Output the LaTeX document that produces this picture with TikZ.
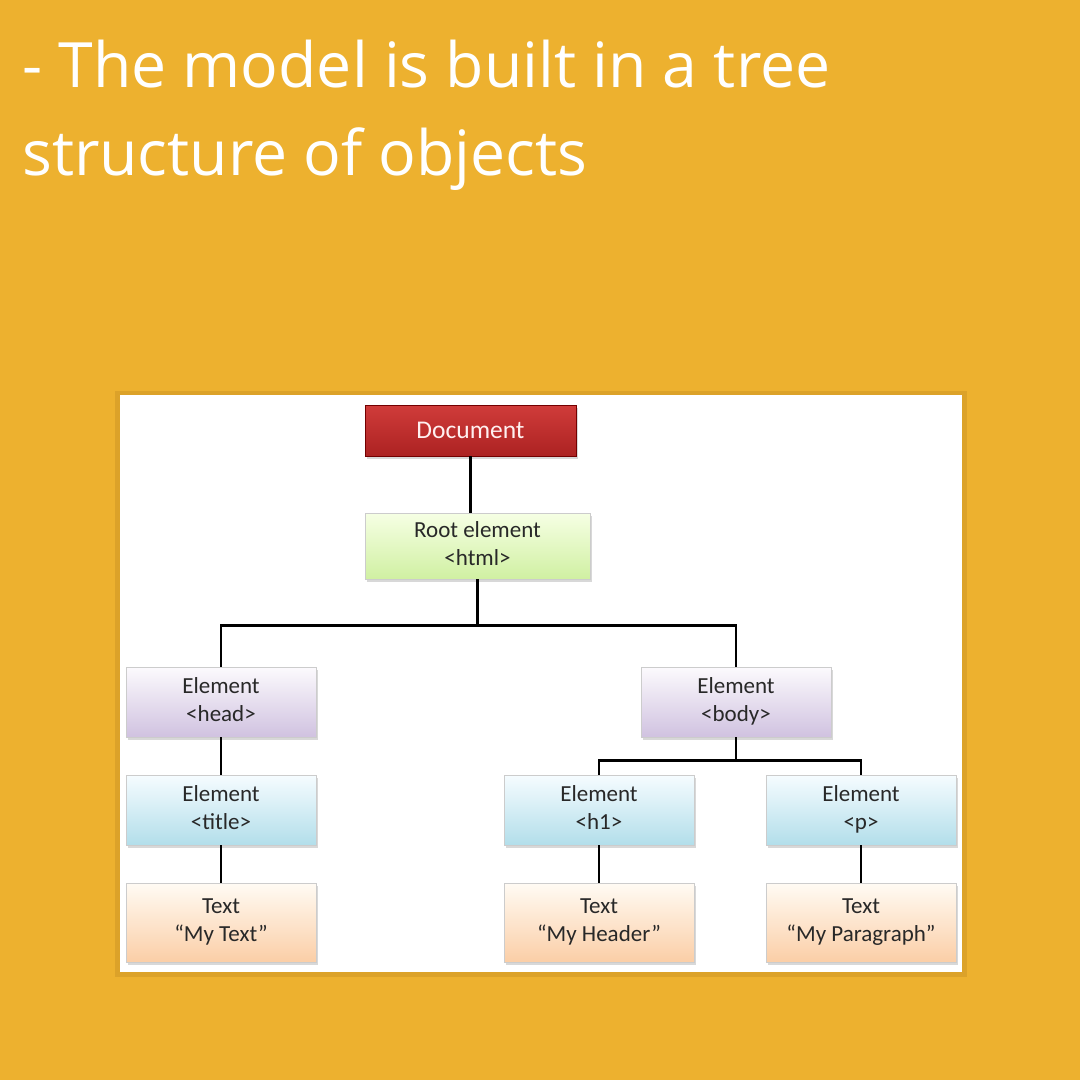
\documentclass[tikz,border=0pt]{standalone}
\usepackage{fontspec}
\setmainfont{Carlito}
\newfontfamily\headfont{Open Sans}
\usepackage{tikz}
\usetikzlibrary{positioning, calc, shadows}

\definecolor{gold}{RGB}{237,177,47}
\definecolor{goldedge}{RGB}{190,135,30}
\definecolor{boxtext}{RGB}{40,40,40}
\definecolor{redtop}{RGB}{208,60,58}
\definecolor{redbot}{RGB}{172,34,34}
\definecolor{greentop}{RGB}{246,255,228}
\definecolor{greenbot}{RGB}{208,240,162}
\definecolor{violettop}{RGB}{252,250,253}
\definecolor{violetbot}{RGB}{208,194,224}
\definecolor{bluetop}{RGB}{246,252,255}
\definecolor{bluebot}{RGB}{178,222,234}
\definecolor{orangetop}{RGB}{255,251,244}
\definecolor{orangebot}{RGB}{251,206,166}

\begin{document}
\begin{tikzpicture}[
  x=1pt, y=-1pt,
  headline/.style={anchor=base west, inner sep=0pt, text=white, font=\headfont\fontsize{62.5}{88}\selectfont},
  tbox/.style={draw=gray!40, line width=0.8pt, minimum width=190pt, minimum height=70pt, inner sep=0pt,
    align=center, text=boxtext, font=\fontsize{23}{28}\selectfont,
    execute at begin node={\rule{0pt}{25pt}}, execute at end node={\rule[-5.5pt]{0pt}{5.5pt}},
    drop shadow={shadow xshift=2pt, shadow yshift=-2.5pt, opacity=0.3}},
  docbox/.style={tbox, top color=redtop, bottom color=redbot, text=red!6, draw=red!45!black,
    font=\fontsize{25.5}{30}\selectfont, execute at begin node=\strut, execute at end node=\strut},
  rootbox/.style={tbox, top color=greentop, bottom color=greenbot},
  elbox/.style={tbox, top color=violettop, bottom color=violetbot},
  tagbox/.style={tbox, top color=bluetop, bottom color=bluebot},
  txtbox/.style={tbox, top color=orangetop, bottom color=orangebot, minimum height=79pt},
  link/.style={line width=2.8pt, black}
]
\useasboundingbox[fill=gold] (0,0) rectangle (1080,1080);

% heading
\node[headline] (line1) at (22,87) {- The model is built in a tree};
\node[headline] (line2) at ([yshift=-88pt]line1.base west) {structure of objects};

% white panel
\fill[goldedge, opacity=0.35] (115,391) rectangle (967,977);
\fill[white] (120,395) rectangle (962,972);

% tree
\node[docbox, minimum width=211pt, minimum height=51pt] (doc) at (470.5,430.5) {Document};
\node[rootbox, minimum width=225pt, minimum height=66pt] (root) at (477.5,546) {Root element\\<html>};

\node[elbox] (head) at (221,702) {Element\\<head>};
\node[elbox] (body) at (736,702) {Element\\<body>};

\node[tagbox] (title) at (221,810) {Element\\<title>};
\node[tagbox] (hone)  at (599,810) {Element\\<h1>};
\node[tagbox] (para)  at (861,810) {Element\\<p>};

\node[txtbox] (mytext)   at (221,922.5) {Text\\“My Text”};
\node[txtbox] (myheader) at (599,922.5) {Text\\“My Header”};
\node[txtbox] (mypara)   at (861,922.5) {Text\\“My Paragraph”};

\coordinate (bus1) at ($(root.south)+(0,46)$);
\coordinate (bus2) at ($(body.south)+(0,23)$);

\draw[link] (doc.south) -- (doc.south |- root.north);
\draw[link] (root.south) -- (bus1) -| (head.north);
\draw[link] (bus1) -| (body.north);
\draw[link] (body.south) -- (bus2) -| (hone.north);
\draw[link] (bus2) -| (para.north);
\draw[link] (head) -- (title);
\draw[link] (title) -- (mytext);
\draw[link] (hone) -- (myheader);
\draw[link] (para) -- (mypara);
\end{tikzpicture}
\end{document}
